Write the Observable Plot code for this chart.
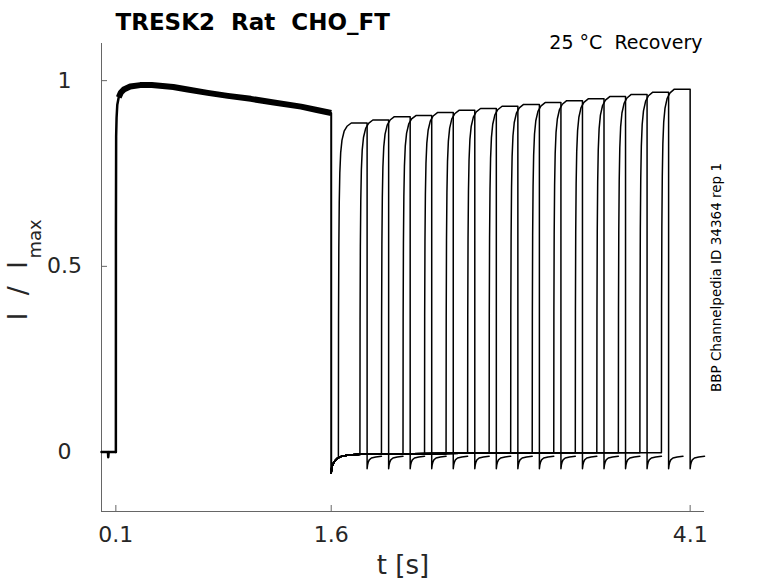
<!DOCTYPE html>
<html>
<head>
<meta charset="utf-8">
<script src="https://cdn.jsdelivr.net/npm/d3@7"></script>
<script src="https://cdn.jsdelivr.net/npm/@observablehq/plot@0.6"></script>
<style>
  html, body { margin: 0; padding: 0; background: white; }
</style>
</head>
<body>
<div id="chart"></div>
<script>
// ---- axis configuration ----
const xDomain = [0, 4.2];
const yDomain = [-0.16, 1.1];
const xTicks = [0.1, 1.6, 4.1];
const yTicks = [0, 0.5, 1];

// ---- texts ----
const titleText = "TRESK2\u00A0\u00A0Rat\u00A0\u00A0CHO_FT";
const subtitleText = "25 °C\u00A0\u00A0Recovery";
const sideText = "BBP Channelpedia ID 34364 rep 1";
const xLabel = "t [s]";
const yLabelMain = "I\u00A0\u00A0/\u00A0\u00A0I";
const yLabelSub = "max";

// ---- prepulse (shared by all sweeps): [t, I] ----
const preBaseline = [[0, 0], [0.045, 0], [0.047, -0.014], [0.05, 0], [0.1, 0]];
const preRise = [[0.1, 0], [0.1005, 0.6], [0.102, 0.85], [0.105, 0.9], [0.11, 0.935], [0.12, 0.955], [0.135, 0.968]];
const prePlateau = [[0.12, 0.955], [0.135, 0.968], [0.155, 0.976], [0.2, 0.984], [0.27, 0.988], [0.35, 0.988],
  [0.5, 0.983], [0.6, 0.976], [0.74, 0.967], [0.88, 0.959], [1.04, 0.951], [1.2, 0.941], [1.39, 0.93],
  [1.5, 0.921], [1.6, 0.913]];
const preFall = [[1.6, 0.913], [1.6, -0.056]];

// ---- after prepulse: deactivation tail (same in all sweeps) ----
const postDecay = [[1.6, -0.056], [1.604, -0.04], [1.615, -0.03], [1.628, -0.023], [1.645, -0.016],
  [1.675, -0.011], [1.72, -0.008], [1.8, -0.006], [2.0, -0.005], [2.5, -0.003], [3.0, -0.002], [3.9, -0.001]];

// ---- recovery test pulses ----
const sweepRise = [1.65, 1.80, 1.95, 2.10, 2.25, 2.40, 2.55, 2.70, 2.85, 3.00, 3.15, 3.30, 3.45, 3.60, 3.75, 3.90];
const sweepFall = [1.85, 2.00, 2.15, 2.30, 2.45, 2.60, 2.75, 2.90, 3.05, 3.20, 3.35, 3.50, 3.65, 3.80, 3.95, 4.10];
const sweepLevel = [0.886, 0.894, 0.903, 0.906, 0.914, 0.92, 0.925, 0.931, 0.936, 0.941, 0.946, 0.951, 0.957, 0.963, 0.969, 0.977];
// activation profile at test onset: [dt, fraction of level]
const actShape = [[0, 0], [0.001, 0.4], [0.003, 0.62], [0.006, 0.76], [0.01, 0.85], [0.016, 0.91], [0.025, 0.948], [0.04, 0.975], [0.06, 0.99], [0.09, 1]];
// tail current after test pulse: [dt, I]
const tailShape = [[0, -0.045], [0.003, -0.035], [0.008, -0.027], [0.015, -0.021], [0.03, -0.016], [0.06, -0.013], [0.1, -0.011]];

// ---- build tables ----
const toRows = (arr) => arr.map(([t, I]) => ({t, I}));
const sweepRows = [];
sweepRise.forEach((r, k) => {
  const f = sweepFall[k], L = sweepLevel[k];
  const base = postDecay.filter(([t]) => t < r);
  const last = base[base.length - 1][1];
  const pts = [...base, [r, last]];
  actShape.forEach(([dt, fr]) => { if (dt > 0) pts.push([r + dt, L * fr]); });
  pts.push([f, L]);
  tailShape.forEach(([dt, I]) => pts.push([f + dt, I]));
  pts.forEach(([t, I]) => sweepRows.push({t, I, sweep: k}));
});

const chart = Plot.plot({
  width: 778,
  height: 583,
  marginLeft: 101,
  marginRight: 74,
  marginTop: 43,
  marginBottom: 72,
  x: {domain: xDomain},
  y: {domain: yDomain},
  style: {fontFamily: "DejaVu Sans", background: "white", color: "#262626", overflow: "visible"},
  marks: [
    // axes lines and inward ticks
    Plot.ruleX([xDomain[0]], {stroke: "#666", strokeWidth: 1}),
    Plot.ruleY([yDomain[0]], {stroke: "#666", strokeWidth: 1}),
    Plot.tickX(xTicks, {x: d => d, insetTop: 462, stroke: "#666"}),
    Plot.tickY(yTicks, {y: d => d, insetRight: 597, stroke: "#666"}),
    Plot.axisX(xTicks, {tickSize: 0, tickPadding: 15, fontSize: 22, tickFormat: d => String(d), label: null}),
    Plot.axisY(yTicks, {tickSize: 0, tickPadding: 37, textAnchor: "middle", fontSize: 22, tickFormat: d => String(d), label: null}),
    // traces
    Plot.line(sweepRows, {x: "t", y: "I", z: "sweep", stroke: "black", strokeWidth: 1.5}),
    Plot.line(toRows(preBaseline), {x: "t", y: "I", stroke: "black", strokeWidth: 2.5}),
    Plot.line(toRows(preRise), {x: "t", y: "I", stroke: "black", strokeWidth: 2.5}),
    Plot.line(toRows(prePlateau), {x: "t", y: "I", stroke: "black", strokeWidth: 6, strokeLinecap: "butt"}),
    Plot.line(toRows(preFall), {x: "t", y: "I", stroke: "black", strokeWidth: 2}),
    // texts
    Plot.text([titleText], {frameAnchor: "top-left", dx: 14, dy: -14, textAnchor: "start", lineAnchor: "bottom", fontSize: 23, fontWeight: "bold", fill: "black"}),
    Plot.text([subtitleText], {frameAnchor: "top-right", dx: -2, dy: 5, textAnchor: "end", lineAnchor: "bottom", fontSize: 19, fill: "black"}),
    Plot.text([sideText], {frameAnchor: "right", dx: 12, rotate: -90, textAnchor: "middle", lineAnchor: "middle", fontSize: 13.5, fill: "black"}),
    Plot.text([xLabel], {frameAnchor: "bottom", dy: 62, lineAnchor: "bottom", fontSize: 26, fill: "#262626"}),
    Plot.text([yLabelMain], {frameAnchor: "left", dx: -83, dy: 43, rotate: -90, textAnchor: "start", lineAnchor: "middle", fontSize: 27, fill: "#262626"}),
    Plot.text([yLabelSub], {frameAnchor: "left", dx: -66, dy: -19, rotate: -90, textAnchor: "start", lineAnchor: "middle", fontSize: 18, fill: "#262626"})
  ]
});
document.getElementById("chart").appendChild(chart);
</script>
</body>
</html>
